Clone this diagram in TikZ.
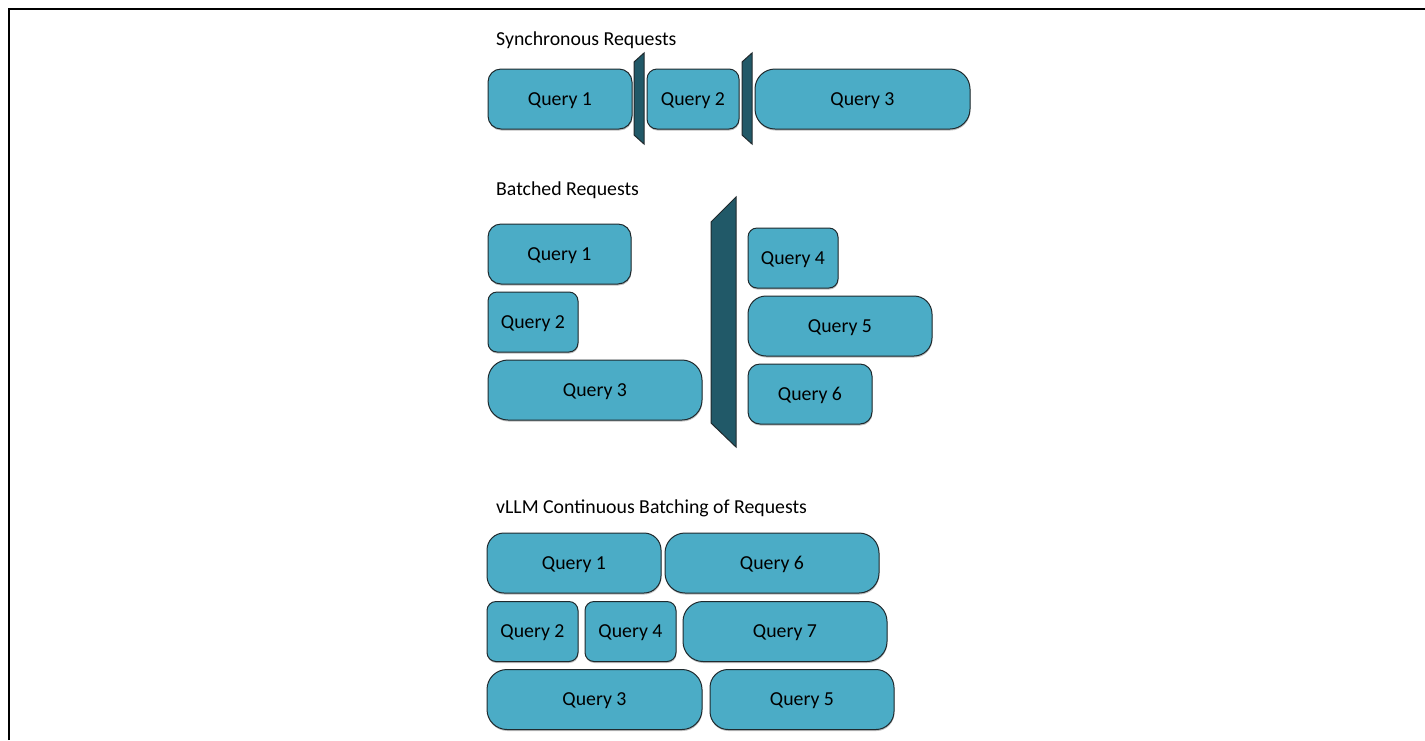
\documentclass[tikz,border=0pt]{standalone}
\usepackage{fontspec}
\setmainfont{Carlito}
\usetikzlibrary{shadows}
\definecolor{qfill}{HTML}{4BACC6}
\definecolor{barfill}{HTML}{215968}
\definecolor{qline}{HTML}{1F2A2E}
\begin{document}
\begin{tikzpicture}[x=1pt,y=-1pt,
  qbox/.style={draw=qline, line width=1pt, fill=qfill, minimum height=60pt, inner sep=0pt,
    text depth=0pt,
    font=\fontsize{19.8}{22}\selectfont, text=black,
    drop shadow={shadow xshift=0.4pt, shadow yshift=-1.5pt, fill=black, opacity=0.25}},
  titletext/.style={anchor=west, inner sep=0pt, font=\fontsize{19.8}{22}\selectfont, text=black},
  barshape/.style={draw=qline, line width=1pt, fill=barfill}]
\useasboundingbox (0,0) rectangle (1425,740);
\draw[line width=2pt] (9,740) -- (9,9) -- (1425,9);

% titles
\node[titletext] (t1) at (496,40) {Synchronous Requests};
\node[titletext] (t2) at (496,190) {Batched Requests};
\node[titletext] (t3) at (496,508) {vLLM Continuous Batching of Requests};

% synchronous
\node[qbox, minimum width=144pt, rounded corners=13pt] (s1) at (560,99) {Query 1};
\node[qbox, minimum width=92pt, rounded corners=10pt] (s2) at (693,99) {Query 2};
\node[qbox, minimum width=215pt, rounded corners=20pt] (s3) at (862.5,99) {Query 3};
\draw[barshape] (634,62) -- (644,53) -- (644,144) -- (634,135) -- cycle;
\draw[barshape] (742,62) -- (752,53) -- (752,144) -- (742,135) -- cycle;

% batched
\node[qbox, minimum width=143pt, rounded corners=13pt] (b1) at (559.5,254) {Query 1};
\node[qbox, minimum width=90pt, rounded corners=9pt] (b2) at (533,322) {Query 2};
\node[qbox, minimum width=214pt, rounded corners=20pt] (b3) at (595,390) {Query 3};
\node[qbox, minimum width=90pt, rounded corners=9pt] (b4) at (793,258) {Query 4};
\node[qbox, minimum width=184pt, rounded corners=18pt] (b5) at (840,326) {Query 5};
\node[qbox, minimum width=124pt, rounded corners=12pt] (b6) at (810,394) {Query 6};
\draw[barshape] (711,222) -- (736,197) -- (736,447) -- (711,423) -- cycle;

% vLLM continuous batching
\node[qbox, minimum width=174pt, rounded corners=17pt] (v1) at (574,563) {Query 1};
\node[qbox, minimum width=214pt, rounded corners=20pt] (v6) at (772,563) {Query 6};
\node[qbox, minimum width=91pt, rounded corners=9pt] (v2) at (532.5,631.5) {Query 2};
\node[qbox, minimum width=91pt, rounded corners=9pt] (v4) at (630.5,631.5) {Query 4};
\node[qbox, minimum width=204pt, rounded corners=20pt] (v7) at (785,631.5) {Query 7};
\node[qbox, minimum width=215pt, rounded corners=20pt] (v3) at (594.5,699.5) {Query 3};
\node[qbox, minimum width=184pt, rounded corners=18pt] (v5) at (802,699.5) {Query 5};
\end{tikzpicture}
\end{document}
